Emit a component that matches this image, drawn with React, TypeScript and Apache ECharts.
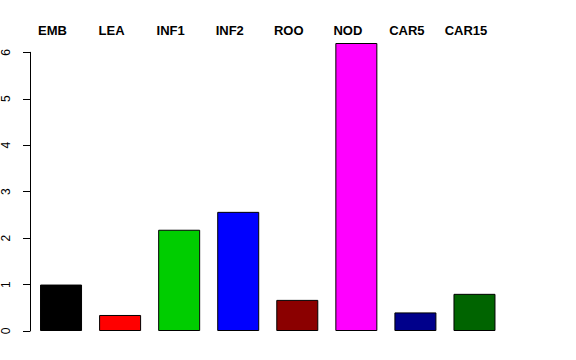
import React, { useEffect, useRef } from "react";
import * as echarts from "echarts";

const categories = ["EMB", "LEA", "INF1", "INF2", "ROO", "NOD", "CAR5", "CAR15"];
const values = [1.0, 0.345, 2.18, 2.565, 0.67, 6.2, 0.4, 0.8];
const colors = ["#000000", "#FF0000", "#00CD00", "#0000FF", "#8B0000", "#FF00FF", "#00008B", "#006400"];
const yTicks = [0, 1, 2, 3, 4, 5, 6];

export default function App() {
  const ref = useRef<HTMLDivElement>(null);
  useEffect(() => {
    if (!ref.current) return;
    const chart = echarts.init(ref.current, null, { renderer: "svg" });
    chart.setOption({
      animation: false,
      backgroundColor: "#ffffff",
      textStyle: { fontFamily: "Liberation Sans" },
      grid: { left: 30, right: 72, top: 52.3, bottom: 29 },
      xAxis: [
        {
          type: "category",
          data: categories,
          position: "bottom",
          axisLine: { show: false },
          axisTick: { show: false },
          axisLabel: { show: false },
        },
        {
          type: "category",
          data: categories,
          position: "top",
          axisLine: { show: false },
          axisTick: { show: false },
          axisLabel: {
            show: true,
            margin: 15,
            fontSize: 13,
            fontWeight: "bold",
            color: "#000",
            fontFamily: "Liberation Sans",
            padding: [0, 17, 0, 0],
          },
        },
      ],
      yAxis: {
        type: "value",
        min: yTicks[0],
        max: yTicks[yTicks.length - 1],
        interval: 1,
        offset: 1.5,
        splitLine: { show: false },
        axisLine: { show: true, lineStyle: { color: "#000", width: 1 } },
        axisTick: { show: true, length: 7, lineStyle: { color: "#000" } },
        axisLabel: {
          rotate: 90,
          margin: 18,
          fontSize: 12,
          color: "#000",
          fontFamily: "Liberation Sans",
        },
      },
      series: [
        {
          type: "bar",
          xAxisIndex: 0,
          clip: false,
          barWidth: 42,
          data: values.map((v, i) => ({
            value: v,
            itemStyle: { color: colors[i], borderColor: "#000", borderWidth: 1 },
          })),
        },
      ],
    });
    return () => chart.dispose();
  }, []);
  return (
    <div
      ref={ref}
      style={{ position: "fixed", left: 0, top: 0, width: 576, height: 360, background: "#fff" }}
    />
  );
}
